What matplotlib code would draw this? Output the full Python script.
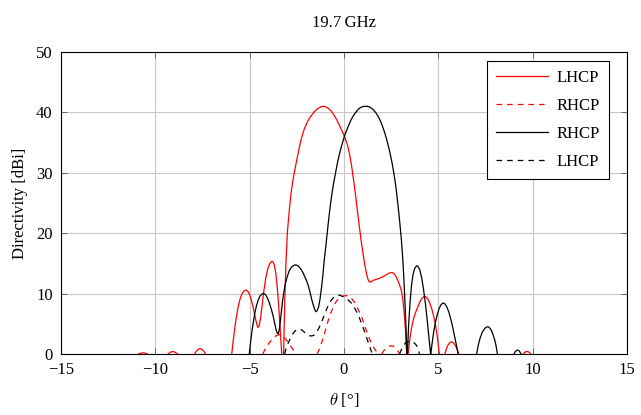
import numpy as np
import matplotlib
matplotlib.use("Agg")
import matplotlib.pyplot as plt

nan = np.nan

# ── Data (nan = curve dips below the 0 dBi floor) ────────────────────────────
# red solid: LHCP co-pol
lhcp_red_theta = [
    -10.88, -10.8, -10.72, -10.65, -10.58, -10.5, -10.42, nan,
    -9.33, -9.24, -9.16, -9.08, -9.0, -8.92, -8.83, nan,
    -7.92, -7.83, -7.73, -7.63, -7.53, -7.43, -7.34, nan,
    -5.95, -5.88, -5.8, -5.72, -5.64, -5.56, -5.48, -5.4, -5.3, -5.2, -5.1, -5.0,
    -4.9, -4.8, -4.7, -4.62, -4.56, -4.5, -4.42, -4.34, -4.25, -4.15, -4.05, -3.95,
    -3.85, -3.78, -3.7, -3.62, -3.55, -3.48, -3.41, -3.35, -3.3, nan,
    -3.2, -3.17, -3.12, -3.07, -3.0, -2.9, -2.8, -2.7, -2.6, -2.5, -2.4, -2.3,
    -2.2, -2.1, -2.0, -1.9, -1.8, -1.7, -1.6, -1.5, -1.4, -1.3, -1.2, -1.1, -1.0,
    -0.9, -0.8, -0.7, -0.6, -0.5, -0.4, -0.3, -0.2, -0.1, 0.0, 0.1, 0.2, 0.3, 0.4,
    0.5, 0.6, 0.7, 0.8, 0.9, 1.0, 1.1, 1.2, 1.28, 1.35, 1.45, 1.55, 1.7, 1.85, 2.0,
    2.15, 2.3, 2.45, 2.55, 2.65, 2.75, 2.85, 2.95, 3.05, 3.12, 3.2, 3.27, 3.33,
    3.4, 3.47, 3.55, 3.65, 3.75, 3.85, 3.95, 4.05, 4.15, 4.25, 4.35, 4.45, 4.55,
    4.65, 4.75, 4.85, 4.95, 5.05, nan,
    5.35, 5.42, 5.5, 5.6, 5.7, 5.8, 5.9, 6.0, 6.08, nan,
    9.5, 9.57, 9.64, 9.7, 9.76, 9.83, 9.9]
lhcp_red_d = [
    0, 0.1, 0.17, 0.2, 0.17, 0.1, 0, nan,
    0, 0.22, 0.35, 0.4, 0.35, 0.22, 0, nan,
    0, 0.45, 0.78, 0.9, 0.78, 0.45, 0, nan,
    0, 2.0, 4.0, 5.8, 7.3, 8.5, 9.4, 10.0, 10.45, 10.6, 10.4, 9.8,
    8.8, 7.5, 6.0, 4.9, 4.4, 4.6, 6.0, 8.0, 10.4, 12.5, 14.0, 14.9,
    15.3, 15.3, 14.8, 13.5, 11.5, 8.8, 5.5, 2.5, 0, nan,
    0, 5.0, 11.0, 15.6, 20.2, 23.8, 26.8, 28.9, 30.6, 32.2, 33.7, 35.2,
    36.3, 37.3, 38.0, 38.7, 39.2, 39.6, 40.0, 40.35, 40.6, 40.8, 40.95, 41.0, 40.95,
    40.8, 40.6, 40.3, 39.9, 39.4, 38.85, 38.25, 37.6, 36.9, 36.2, 35.4, 34.4, 33.0, 31.2,
    29.0, 26.6, 24.0, 21.4, 19.0, 16.8, 14.8, 13.2, 12.3, 11.9, 12.0, 12.2, 12.35, 12.5, 12.7,
    12.95, 13.25, 13.45, 13.5, 13.3, 12.9, 12.2, 11.4, 10.4, 9.0, 6.5, 3.5, 0,
    0, 2.0, 3.8, 5.4, 6.5, 7.3, 8.1, 8.8, 9.3, 9.5, 9.45, 9.1, 8.4,
    7.5, 6.3, 4.8, 2.8, 0, nan,
    0, 0.8, 1.4, 1.85, 2.0, 1.85, 1.4, 0.8, 0, nan,
    0, 0.25, 0.38, 0.4, 0.38, 0.25, 0]

# red dashed: RHCP cross-pol
rhcp_red_theta = [
    -4.3, -4.2, -4.1, -4.0, -3.9, -3.8, -3.7, -3.6, -3.5, -3.4, -3.3, -3.2,
    -3.1, -3.0, -2.9, -2.8, -2.7, -2.62, -2.55, nan,
    -1.42, -1.33, -1.25, -1.15, -1.05, -0.95, -0.85, -0.75, -0.65, -0.55, -0.45,
    -0.35, -0.25, -0.15, -0.05, 0.05, 0.15, 0.25, 0.35, 0.45, 0.55, 0.65, 0.75,
    0.85, 0.95, 1.05, 1.15, 1.25, 1.35, 1.45, 1.55, 1.65, 1.75, 1.82, nan,
    2.0, 2.1, 2.2, 2.3, 2.4, 2.5, 2.6, 2.7, 2.8, 2.88, 2.95]
rhcp_red_d = [
    0, 0.7, 1.25, 1.7, 2.1, 2.5, 2.8, 3.0, 3.15, 3.2, 3.1, 2.85,
    2.5, 2.1, 1.65, 1.2, 0.75, 0.35, 0, nan,
    0, 0.6, 1.3, 2.2, 3.2, 4.3, 5.4, 6.4, 7.2, 7.9, 8.5,
    8.95, 9.3, 9.5, 9.6, 9.65, 9.65, 9.55, 9.35, 9.0, 8.6, 8.0, 7.4,
    6.7, 6.0, 5.1, 4.2, 3.3, 2.5, 1.8, 1.2, 0.7, 0.3, 0, nan,
    0, 0.5, 0.85, 1.1, 1.3, 1.35, 1.3, 1.1, 0.75, 0.4, 0]

# black solid: RHCP co-pol
rhcp_blk_theta = [
    -5.02, -4.95, -4.88, -4.8, -4.72, -4.63, -4.54, -4.45, -4.35, -4.25, -4.15,
    -4.05, -3.95, -3.85, -3.75, -3.67, -3.6, -3.53, -3.48, -3.42, -3.36, -3.3,
    -3.22, -3.12, -3.0, -2.9, -2.78, -2.65, -2.55, -2.45, -2.35, -2.25, -2.15,
    -2.05, -1.98, -1.9, -1.8, -1.7, -1.6, -1.53, -1.48, -1.42, -1.35, -1.28, -1.2,
    -1.12, -1.05, -0.95, -0.85, -0.75, -0.65, -0.55, -0.45, -0.35, -0.25, -0.15,
    -0.05, 0.05, 0.15, 0.25, 0.35, 0.45, 0.55, 0.65, 0.75, 0.85, 0.95, 1.05, 1.15,
    1.25, 1.35, 1.45, 1.55, 1.65, 1.75, 1.85, 1.95, 2.05, 2.15, 2.25, 2.35, 2.45,
    2.55, 2.65, 2.75, 2.85, 2.95, 3.05, 3.12, 3.18, 3.24, 3.29, 3.32, nan,
    3.36, 3.42, 3.5, 3.58, 3.66, 3.75, 3.85, 3.93, 4.02, 4.12, 4.22, 4.32, 4.42,
    4.5, 4.59, nan,
    4.6, 4.68, 4.76, 4.85, 4.95, 5.05, 5.15, 5.25, 5.35, 5.45, 5.55, 5.65, 5.75,
    5.85, 5.95, 6.05, nan,
    7.03, 7.12, 7.22, 7.33, 7.45, 7.57, 7.68, 7.8, 7.9, 8.0, 8.07, 8.13, nan,
    9.01, 9.07, 9.14, 9.2, 9.26, 9.32, 9.38]
rhcp_blk_d = [
    0, 2.0, 3.8, 5.4, 6.9, 8.1, 9.0, 9.6, 9.95, 10.0, 9.8,
    9.2, 8.4, 7.4, 6.2, 5.0, 4.0, 3.4, 3.4, 4.2, 5.8, 7.6,
    9.6, 11.5, 12.9, 13.8, 14.4, 14.7, 14.75, 14.6, 14.3, 13.9, 13.3,
    12.6, 12.1, 11.4, 10.2, 8.9, 7.8, 7.2, 7.0, 7.2, 7.8, 8.9, 10.8,
    13.0, 15.5, 18.2, 21.2, 24.0, 26.3, 28.3, 30.0, 31.6, 33.0, 34.2,
    35.3, 36.3, 37.1, 37.9, 38.6, 39.2, 39.7, 40.1, 40.5, 40.75, 40.9, 41.0, 41.0,
    41.0, 40.9, 40.7, 40.45, 40.1, 39.65, 39.1, 38.45, 37.65, 36.7, 35.65, 34.45, 33.1,
    31.6, 29.8, 27.7, 25.0, 22.0, 18.6, 15.5, 12.0, 8.0, 4.0, 0, nan,
    0, 4.5, 8.5, 11.4, 13.2, 14.2, 14.6, 14.5, 13.9, 12.6, 10.6, 8.2, 5.3,
    2.8, 0, nan,
    0, 2.0, 3.8, 5.3, 6.6, 7.6, 8.2, 8.45, 8.3, 7.8, 7.0, 5.9, 4.6,
    3.1, 1.6, 0, nan,
    0, 1.5, 2.7, 3.6, 4.2, 4.5, 4.45, 4.0, 3.2, 2.2, 1.2, 0, nan,
    0, 0.35, 0.58, 0.66, 0.58, 0.35, 0]

# black dashed: LHCP cross-pol
lhcp_blk_theta = [
    -3.15, -3.08, -3.0, -2.9, -2.8, -2.7, -2.6, -2.5, -2.4, -2.3, -2.2, -2.1,
    -2.0, -1.9, -1.8, -1.7, -1.6, -1.5, -1.4, -1.3, -1.2, -1.1, -1.0, -0.9, -0.8,
    -0.7, -0.6, -0.5, -0.4, -0.3, -0.2, -0.1, 0.0, 0.1, 0.2, 0.3, 0.4, 0.5, 0.6,
    0.7, 0.8, 0.9, 1.0, 1.1, 1.2, 1.3, 1.38, 1.44, 1.5, nan,
    2.95, 3.05, 3.15, 3.25, 3.35, 3.45, 3.55, 3.65, 3.75, 3.85, 3.93, 4.0]
lhcp_blk_d = [
    0, 0.8, 1.5, 2.2, 2.9, 3.4, 3.8, 4.05, 4.15, 4.1, 3.9, 3.6,
    3.3, 3.1, 3.0, 3.0, 3.1, 3.4, 3.9, 4.5, 5.2, 6.0, 6.8, 7.6, 8.2,
    8.8, 9.2, 9.5, 9.7, 9.75, 9.7, 9.55, 9.45, 9.3, 9.0, 8.7, 8.4, 8.0, 7.4,
    6.8, 6.1, 5.3, 4.5, 3.6, 2.7, 1.8, 1.1, 0.5, 0, nan,
    0, 0.8, 1.4, 1.8, 2.0, 2.1, 2.05, 1.95, 1.75, 1.4, 0.8, 0]

X_TICKS = [-15, -10, -5, 0, 5, 10, 15]
Y_TICKS = [0, 10, 20, 30, 40, 50]

# ── Style ─────────────────────────────────────────────────────────────────────
plt.rcParams["font.family"] = ["Liberation Serif", "DejaVu Serif"]
plt.rcParams["mathtext.fontset"] = "cm"
plt.rcParams["font.size"] = 12

DASH = (0, (4.5, 4.0))

fig = plt.figure(figsize=(6.41, 4.15), dpi=100)
ax = fig.add_axes([61 / 641, 1 - 354 / 415, 566 / 641, 302 / 415])

ax.plot(lhcp_red_theta, lhcp_red_d, color="red", lw=0.9, label="LHCP")
ax.plot(rhcp_red_theta, rhcp_red_d, color="red", lw=0.9, ls=DASH, label="RHCP")
ax.plot(rhcp_blk_theta, rhcp_blk_d, color="black", lw=0.9, label="RHCP")
ax.plot(lhcp_blk_theta, lhcp_blk_d, color="black", lw=0.9, ls=DASH, label="LHCP")

ax.set_xlim(-15, 15)
ax.set_ylim(0, 50)
ax.set_xticks(X_TICKS)
ax.set_yticks(Y_TICKS)
ax.grid(True, color="#c8c8c8", lw=0.8)
ax.set_axisbelow(True)
ax.tick_params(direction="in", top=True, right=True, length=4, width=0.6,
               labelsize=12, pad=6, color="#555555")
for spine in ax.spines.values():
    spine.set_linewidth(0.8)

ax.set_xlabel(r"$\theta$ [°]", fontsize=12, labelpad=9)
ax.set_ylabel("Directivity [dBi]", fontsize=12, labelpad=6)
ax.set_title("19.7\u2009GHz", fontsize=12, pad=18)

leg = ax.legend(loc="upper right", bbox_to_anchor=(0.968, 0.970),
                fancybox=False, framealpha=1, edgecolor="black",
                handlelength=3.1, handletextpad=0.5, labelspacing=0.72,
                borderpad=0.55, borderaxespad=0, fontsize=12)
leg.get_frame().set_linewidth(0.8)

fig.savefig("out.png", dpi=100)
